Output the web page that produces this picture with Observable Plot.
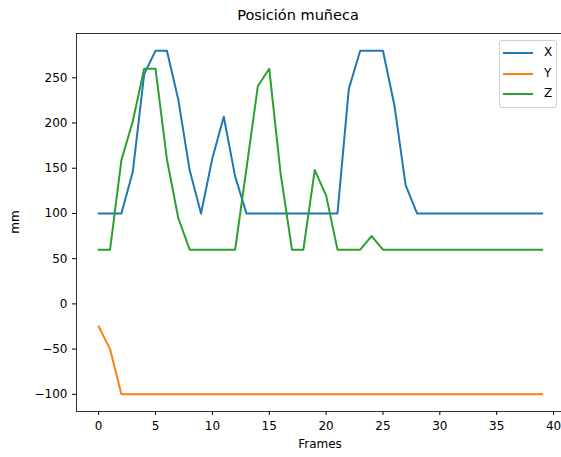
<!DOCTYPE html>
<html><head><meta charset="utf-8">
<script src="https://cdn.jsdelivr.net/npm/d3@7"></script>
<script src="https://cdn.jsdelivr.net/npm/@observablehq/plot@0.6"></script>
<style>
html,body{margin:0;padding:0;background:#fff;font-family:"DejaVu Sans",sans-serif;overflow:hidden;}
#wrap{position:relative;width:561px;height:457px;}
#chart{position:absolute;left:0;top:0;}
.lab{position:absolute;color:#000;white-space:nowrap;}
#title{top:7px;left:180px;width:236px;text-align:center;font-size:14.5px;}
#xlab{top:437px;left:270px;width:100px;text-align:center;font-size:12px;}
#ylab{left:15px;top:222px;font-size:12px;transform:translate(-50%,-50%) rotate(-90deg);}
#legend{position:absolute;left:499px;top:40px;width:58px;height:68px;box-sizing:border-box;border:1px solid #d0d0d0;border-radius:3px;background:rgba(255,255,255,0.8);}
.item{position:absolute;left:3px;height:14px;font-size:12px;}
.item span.sw{position:absolute;left:0;top:6px;width:30px;height:0;border-top:2px solid;}
.item span.tx{position:absolute;left:41px;top:-1px;}
</style></head><body>
<div id="wrap"><div id="chart"></div>
<div id="title" class="lab">Posición muñeca</div>
<div id="xlab" class="lab">Frames</div>
<div id="ylab" class="lab">mm</div>
<div id="legend"></div>
</div>
<script>
const frames = [0,1,2,3,4,5,6,7,8,9,10,11,12,13,14,15,16,17,18,19,20,21,22,23,24,25,26,27,28,29,30,31,32,33,34,35,36,37,38,39];
const seriesNames = ["X","Y","Z"];
const seriesColors = ["#1f77b4","#ff7f0e","#2ca02c"];
const xValues = [100,100,100,146,254,280,280,226,148,100,161,207,141,100,100,100,100,100,100,100,100,100,238,280,280,280,220,131,100,100,100,100,100,100,100,100,100,100,100,100];
const yValues = [-25,-50,-100,-100,-100,-100,-100,-100,-100,-100,-100,-100,-100,-100,-100,-100,-100,-100,-100,-100,-100,-100,-100,-100,-100,-100,-100,-100,-100,-100,-100,-100,-100,-100,-100,-100,-100,-100,-100,-100];
const zValues = [60,60,159,202,260,260,160,95,60,60,60,60,60,150,241,260,144,60,60,148,120,60,60,60,75,60,60,60,60,60,60,60,60,60,60,60,60,60,60,60];
const xTicks = [0,5,10,15,20,25,30,35,40];
const yTicks = [-100,-50,0,50,100,150,200,250];
const xDomain = [-1.95, 40.7];
const yDomain = [-119, 299];

const seriesValues = [xValues, yValues, zValues];
const data = [];
seriesNames.forEach((s, k) => frames.forEach((f, i) => data.push({frame: f, value: seriesValues[k][i], series: s})));

const chart = Plot.plot({
  width: 561, height: 457,
  marginLeft: 76, marginRight: 0, marginTop: 33, marginBottom: 46,
  style: {fontFamily: "DejaVu Sans, sans-serif", fontSize: "12px"},
  x: {domain: xDomain},
  y: {domain: yDomain},
  color: {domain: seriesNames, range: seriesColors},
  marks: [
    Plot.axisX({ticks: xTicks, tickSize: 4, tickPadding: 6, label: null}),
    Plot.axisY({ticks: yTicks, tickSize: 4, tickPadding: 5, label: null}),
    Plot.line(data, {x: "frame", y: "value", z: "series", stroke: "series", strokeWidth: 2, strokeLinejoin: "round", strokeLinecap: "square"}),
    Plot.ruleX([xDomain[0]], {strokeOpacity: 0.8}),
    Plot.ruleY(yDomain, {x1: xDomain[0], x2: xDomain[1], strokeOpacity: 0.8})
  ]
});
document.getElementById("chart").appendChild(chart);

const leg = document.getElementById("legend");
seriesNames.forEach((s, k) => {
  const it = document.createElement("div");
  it.className = "item";
  it.style.top = (5 + k * 20.5) + "px";
  it.innerHTML = `<span class="sw" style="border-color:${seriesColors[k]}"></span><span class="tx">${s}</span>`;
  leg.appendChild(it);
});
</script>
</body></html>
